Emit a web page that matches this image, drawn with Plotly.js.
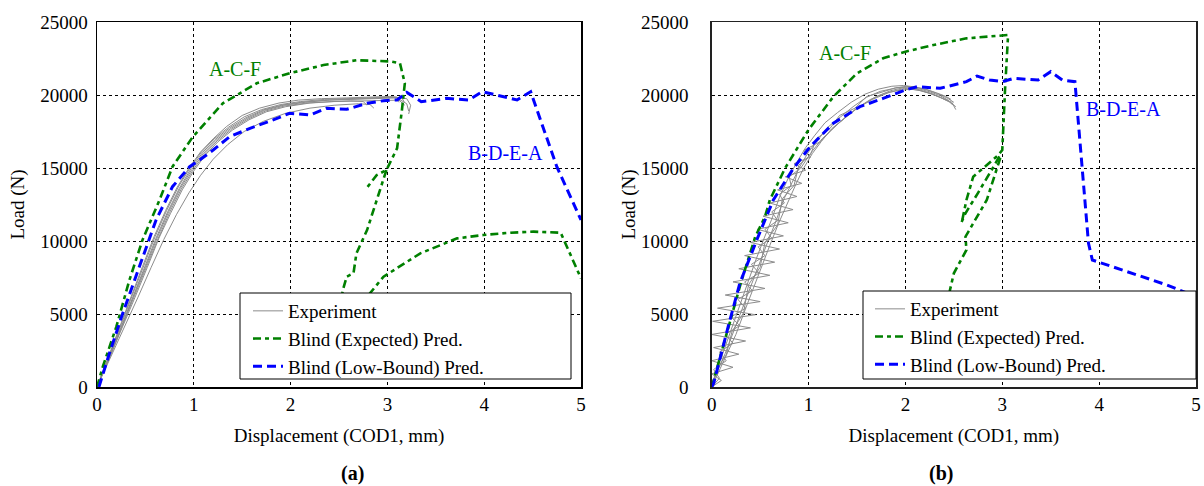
<!DOCTYPE html>
<html><head><meta charset="utf-8">
<script src="https://cdn.plot.ly/plotly-3.0.1.min.js"></script>
<style>
html,body{margin:0;padding:0;background:#fff}
#chart{width:1204px;height:486px;font-family:'Liberation Serif'}
</style>
</head><body><div id="chart"></div>
<script>
// ---------- Panel (a) ----------
const expLeftX = [
  [0,0.12,0.24,0.36,0.48,0.60,0.72,0.84,0.96,1.08,1.21,1.36,1.52,1.70,1.90,2.10,2.35,2.6,2.85,3.05,3.15,3.18],
  [0,0.13,0.25,0.37,0.50,0.62,0.74,0.86,0.98,1.10,1.23,1.38,1.55,1.73,1.93,2.15,2.4,2.65,2.9,3.1,3.2,3.22],
  [0,0.13,0.26,0.39,0.52,0.64,0.76,0.88,1.00,1.12,1.25,1.40,1.57,1.75,1.95,2.2,2.45,2.7,2.95,3.12,3.18],
  [0,0.14,0.28,0.42,0.56,0.69,0.82,0.95,1.07,1.20,1.35,1.52,1.72,1.95,2.2,2.45,2.7,2.82,2.86],
  [0,0.11,0.23,0.35,0.47,0.59,0.71,0.83,0.95,1.07,1.20,1.34,1.50,1.68,1.88,2.08,2.32,2.58,2.84,3.02,3.1,3.12],
  [0,0.12,0.25,0.38,0.51,0.63,0.75,0.87,0.99,1.11,1.24,1.39,1.56,1.74,1.94,2.17,2.42,2.62,2.75,2.79],
  [0,0.12,0.24,0.37,0.49,0.61,0.73,0.85,0.97,1.09,1.22,1.37,1.54,1.72,1.92,2.13,2.38,2.64,2.9,3.08,3.2,3.24,3.22]
];
const expLeftY = [
  [0,2000,4100,6200,8300,10300,12100,13700,15000,16100,17000,17800,18500,19000,19350,19550,19700,19750,19800,19850,19800,19450],
  [0,2000,4000,6100,8200,10200,12000,13600,14900,16000,16900,17700,18400,18950,19300,19500,19650,19700,19750,19800,19400,18900],
  [0,2000,4000,6100,8200,10200,11900,13500,14800,15900,16800,17600,18300,18850,19200,19450,19550,19600,19650,19650,19300],
  [0,2000,4000,6100,8200,10100,11800,13300,14500,15600,16600,17500,18200,18750,19100,19300,19400,19350,19100],
  [0,1950,4050,6150,8250,10300,12100,13700,15000,16100,17000,17850,18600,19100,19450,19650,19750,19800,19850,19900,19850,19500],
  [0,1950,4000,6100,8200,10150,11950,13550,14850,15950,16850,17650,18350,18900,19250,19450,19550,19600,19550,19300],
  [0,1950,3950,6150,8200,10200,12000,13600,14950,16050,16950,17750,18450,18980,19320,19520,19650,19750,19800,19850,19750,19300,18700]
];
const expectedLeftX = [0,0.06,0.20,0.335,0.47,0.646,0.78,0.99,1.30,1.65,1.99,2.34,2.68,3.03,3.13,3.18,3.15,3.10,2.99,2.89,2.77,null,2.99,2.89,2.79,2.68,2.65,2.58,2.54,2.50,2.60,2.82,2.96,3.34,3.72,3.99,4.27,4.51,4.79,5.0];
const expectedLeftY = [0,1390,4130,7330,10070,12810,15090,17140,19430,20800,21490,22050,22380,22300,22170,20800,18970,16350,14860,14520,13490,null,14860,12810,10750,9155,7800,7555,6644,5000,4500,6420,7555,9155,10180,10410,10570,10640,10570,7440];
const lowLeftX = [0.02,0.128,0.266,0.44,0.61,0.78,0.957,1.06,1.20,1.37,1.58,1.82,1.99,2.20,2.37,2.58,2.79,2.96,3.10,3.20,3.35,3.61,3.84,3.98,4.34,4.48,4.75,5.0];
const lowLeftY = [0,2300,5050,8240,11440,13720,15090,15550,16230,17140,17720,18290,18750,18630,19090,19020,19430,19610,19660,20180,19540,19770,19660,20230,19660,20230,15090,11440];

// ---------- Panel (b) ----------
const expRightX = [
  [0,0.06,0.14,0.22,0.31,0.40,0.49,0.57,0.66,0.74,0.83,0.91,1.00,1.09,1.20,1.33,1.46,1.60,1.74,1.88,2.01,2.12,2.22,2.33,2.43,2.50],
  [0,0.05,0.12,0.20,0.28,0.37,0.45,0.53,0.62,0.70,0.79,0.88,0.97,1.06,1.17,1.30,1.44,1.58,1.72,1.86,1.98,2.10,2.21,2.32,2.42,2.47],
  [0,0.07,0.16,0.25,0.34,0.43,0.52,0.60,0.69,0.78,0.87,0.95,1.04,1.13,1.24,1.37,1.50,1.64,1.78,1.92,2.05,2.16,2.27,2.37,2.46,2.52],
  [0,0.05,0.15,0.21,0.33,0.38,0.50,0.55,0.68,0.73,0.85,0.90,1.02,1.08,1.22,1.32,1.48,1.60,1.76,1.90,2.03,2.15,2.26,2.36,2.44,2.49],
  [0,0.10,0.0,0.22,0.0,0.28,0.02,0.35,0.0,0.40,0.01,0.45,0.06,0.50,0.14,0.55,0.22,0.60,0.28,0.65,0.34,0.70,0.40,0.74,0.47,0.79,0.53,0.84,0.60,0.88,0.68,0.93,0.76,0.97,0.85,1.02,0.95,1.12,1.25,1.40,1.55,1.70,1.85,1.98,2.10,2.22,2.34,2.44],
  [0,0.08,0.02,0.15,0.08,0.22,0.14,0.29,0.20,0.35,0.27,0.42,0.34,0.49,0.41,0.55,0.48,0.62,0.55,0.68,0.62,0.75,0.70,0.82,0.80,0.92,1.02,1.14,1.30,1.48,1.66,1.84,1.99,2.12,2.26,2.38,2.48,2.52]
];
const expRightY = [
  [0,1100,2300,3700,5300,6900,8400,9800,11300,12800,14000,15100,16100,16900,17800,18500,19200,19850,20250,20450,20600,20500,20350,20100,19800,19500],
  [0,1150,2400,3900,5500,7100,8600,10000,11500,13000,14300,15400,16400,17200,18100,18800,19500,20050,20400,20600,20650,20550,20400,20150,19900,19700],
  [0,1000,2200,3600,5200,6800,8300,9700,11200,12600,13900,15000,16000,16800,17700,18400,19100,19700,20100,20300,20400,20300,20100,19800,19500,19200],
  [0,1200,2200,3800,5100,7000,8200,9900,11100,12900,13800,15200,15900,17000,17700,18600,19100,19900,20200,20500,20550,20400,20200,19950,19650,19300],
  [0,450,900,1350,1800,2250,2700,3150,3600,4050,4500,4950,5400,5850,6300,6750,7200,7650,8100,8550,9000,9450,9900,10350,10800,11250,11700,12150,12600,13050,13500,13950,14400,14850,15300,15750,16200,16800,17700,18600,19300,19900,20300,20500,20450,20200,19900,19600],
  [0,600,1200,1800,2400,3000,3600,4200,4800,5400,6000,6600,7200,7800,8400,9000,9600,10200,10800,11400,12000,12600,13200,13800,14400,15000,16000,17000,18000,19000,19700,20200,20450,20350,20100,19800,19500,19000]
];
const expectedRightX = [0,0.155,0.31,0.45,0.55,0.60,0.757,0.998,1.256,1.50,1.77,2.0,2.29,2.63,2.91,3.06,3.03,3.00,2.96,2.70,2.63,2.58,null,2.97,2.91,2.75,2.62,2.58,null,2.98,2.84,2.70,2.62,2.63,2.50,2.46,2.44];
const expectedRightY = [0,3678,7329,10295,11664,12808,14979,17603,19884,21486,22513,22970,23425,23881,24064,24110,20570,16233,15890,14404,12808,11210,null,15800,15089,13300,11897,11300,null,15700,12808,11210,10295,9384,7788,6644,6000];
const lowRightX = [0,0.02,0.17,0.29,0.465,0.568,0.636,0.844,1.016,1.256,1.53,1.77,2.0,2.12,2.36,2.63,2.74,2.87,3.0,3.12,3.37,3.50,3.62,3.75,3.87,3.89,3.93,4.08,4.70,5.0];
const lowRightY = [0,250,4130,7100,10068,11664,12808,14979,16459,18062,19198,19771,20342,20570,20458,20913,21301,21027,20913,21142,21027,21598,21027,20913,11664,9840,8700,8356,6986,6185];

const seriesNames = ['Experiment','Blind (Expected) Pred.','Blind (Low-Bound) Pred.'];
const xTitle = 'Displacement (COD1, mm)';
const yTitle = 'Load (N)';

const GRAY = '#8c8c8c', GREEN = '#008000', BLUE = '#0000ff';
const FONT = 'Liberation Serif';

const traces = [];
function addPanel(xa, ya, leg, ex, ey, gx, gy, bx, by) {
  ex.forEach((xs, i) => traces.push({
    x: xs, y: ey[i], xaxis: xa, yaxis: ya, legend: leg, type: 'scatter', mode: 'lines',
    name: seriesNames[0], showlegend: i === 0, line: {color: GRAY, width: 1}, hoverinfo: 'skip'
  }));
  traces.push({x: gx, y: gy, xaxis: xa, yaxis: ya, legend: leg, type: 'scatter', mode: 'lines',
    name: seriesNames[1], connectgaps: false, line: {color: GREEN, width: 2.6, dash: '8px,4px,4px,4px'}});
  traces.push({x: bx, y: by, xaxis: xa, yaxis: ya, legend: leg, type: 'scatter', mode: 'lines',
    name: seriesNames[2], line: {color: BLUE, width: 3, dash: '9px,5px'}});
}
addPanel('x','y','legend', expLeftX, expLeftY, expectedLeftX, expectedLeftY, lowLeftX, lowLeftY);
addPanel('x2','y2','legend2', expRightX, expRightY, expectedRightX, expectedRightY, lowRightX, lowRightY);

const W = 1204, H = 486;
const px = v => v / W, py = v => 1 - v / H;
const yDom = [py(387), py(22)];
function xax(dom, lc) {
  return {domain: dom, range: [0,5], dtick: 1, tick0: 0, showgrid: true, gridcolor: '#000', griddash: 'dot', gridwidth: 1,
    zeroline: false, showline: true, mirror: true, linecolor: lc, linewidth: 1.5, ticks: '',
    tickfont: {size: 19, family: FONT}, title: {text: xTitle, font: {size: 19, family: FONT}, standoff: 14}};
}
function yax(dom, lc, stand, tstand) {
  return {domain: dom, range: [0,25000], dtick: 5000, tick0: 0, tickformat: 'd', showgrid: true, gridcolor: '#000', griddash: 'dot', gridwidth: 1,
    zeroline: false, showline: true, mirror: true, linecolor: lc, linewidth: 1.5, ticks: '', ticklabelstandoff: stand,
    tickfont: {size: 19, family: FONT}, title: {text: yTitle, font: {size: 19, family: FONT}, standoff: tstand}};
}
const xa1 = xax([px(97), px(581)], '#000'); xa1.anchor = 'y';
const ya1 = yax(yDom, '#000', 4, 10); ya1.anchor = 'x';
const xa2 = xax([px(711.7), px(1196)], '#222'); xa2.anchor = 'y2';
const ya2 = yax(yDom, '#222', 18, 0); ya2.anchor = 'x2';

const legendStyle = (x, y) => ({x: x, y: y, xanchor: 'left', yanchor: 'top', bgcolor: 'rgba(0,0,0,0)', borderwidth: 0,
  font: {size: 19, family: FONT, color: '#000'}, traceorder: 'normal'});

const layout = {
  width: W, height: H, margin: {l: 0, r: 0, t: 0, b: 0},
  paper_bgcolor: '#fff', plot_bgcolor: '#fff',
  font: {family: FONT, color: '#000', size: 19},
  showlegend: true,
  xaxis: xa1, yaxis: ya1, xaxis2: xa2, yaxis2: ya2,
  legend: legendStyle(px(248), py(292)),
  legend2: legendStyle(px(870), py(290)),
  shapes: [
    {type: 'rect', xref: 'paper', yref: 'paper', x0: px(240), x1: px(571), y0: py(379), y1: py(293),
      fillcolor: '#fff', line: {color: '#000', width: 1}, layer: 'above'},
    {type: 'rect', xref: 'paper', yref: 'paper', x0: px(863), x1: px(1196), y0: py(379), y1: py(291),
      fillcolor: '#fff', line: {color: '#000', width: 1}, layer: 'above'}
  ],
  annotations: [
    {xref: 'x', yref: 'y', x: 1.43, y: 21780, text: 'A-C-F', showarrow: false, font: {size: 20, color: GREEN, family: FONT}},
    {xref: 'x', yref: 'y', x: 4.22, y: 16030, text: 'B-D-E-A', showarrow: false, font: {size: 20, color: BLUE, family: FONT}},
    {xref: 'x2', yref: 'y2', x: 1.38, y: 22910, text: 'A-C-F', showarrow: false, font: {size: 20, color: GREEN, family: FONT}},
    {xref: 'x2', yref: 'y2', x: 4.25, y: 19040, text: 'B-D-E-A', showarrow: false, font: {size: 20, color: BLUE, family: FONT}},
    {xref: 'paper', yref: 'paper', x: px(339), y: py(473), yanchor: 'middle', text: '<b>(a)</b>', showarrow: false, font: {size: 20, family: FONT}},
    {xref: 'paper', yref: 'paper', x: px(955), y: py(473), yanchor: 'middle', text: '<b>(b)</b>', showarrow: false, font: {size: 20, family: FONT}}
  ]
};

Plotly.newPlot('chart', traces, layout, {displayModeBar: false, staticPlot: true});
</script></body></html>
